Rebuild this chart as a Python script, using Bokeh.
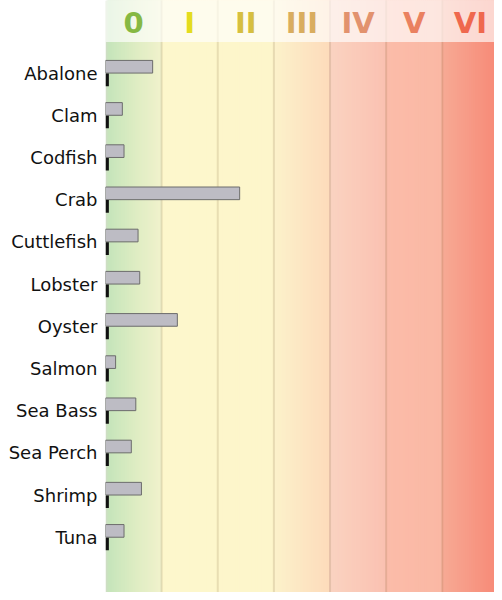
import numpy as np
from bokeh.plotting import figure
from bokeh.models import Range1d, FixedTicker, ColumnDataSource
from bokeh.transform import dodge
from bokeh.core.properties import value
from bokeh.embed import file_html
from bokeh.resources import INLINE

# ---- data ----
categories = ["Abalone", "Clam", "Codfish", "Crab", "Cuttlefish", "Lobster",
              "Oyster", "Salmon", "Sea Bass", "Sea Perch", "Shrimp", "Tuna"]
series_a = [0.84, 0.30, 0.33, 2.39, 0.58, 0.61, 1.28, 0.18, 0.54, 0.46, 0.64, 0.33]
series_b = [0.06, 0.06, 0.06, 0.06, 0.06, 0.06, 0.06, 0.06, 0.06, 0.06, 0.06, 0.06]
level_labels = ["0", "I", "II", "III", "IV", "V", "VI"]
level_colors = ["#86b843", "#e4dc1e", "#d6bf40", "#d9ad5f", "#e2926e", "#ea8160", "#ef684e"]

X_END = 6.93
Y_BOTTOM, Y_TOP = 12.31, -1.72
HEADER_EDGE = -0.735
HEADER_TEXT_Y = -1.19

p = figure(width=494, height=592, output_backend="svg", toolbar_location=None,
           x_range=Range1d(0, X_END), y_range=Range1d(Y_BOTTOM, Y_TOP),
           min_border_left=105, min_border_right=0, min_border_top=0, min_border_bottom=0)
p.outline_line_color = None
p.xaxis.visible = False
p.xgrid.visible = False
p.ygrid.visible = False
p.background_fill_color = "white"

# ---- background gradient (decoration) ----
stops = [
    (0.00, "#d0dbc6"), (0.06, "#c6e5bb"), (0.5, "#dcecc2"), (0.99, "#f1f2cc"),
    (1.00, "#fdf7cc"), (2.99, "#fdf6cb"),
    (3.00, "#fcf2cb"), (3.99, "#fddbbb"),
    (4.00, "#fad3c1"), (4.99, "#fac1b1"),
    (5.00, "#fbbca9"), (5.99, "#fab8a4"),
    (6.00, "#f7aa95"), (X_END, "#f78b78"),
]
def hex2rgb(h):
    h = h.lstrip("#")
    return np.array([int(h[i:i + 2], 16) for i in (0, 2, 4)], dtype=float)
sx = np.array([s[0] for s in stops])
sc = np.array([hex2rgb(s[1]) for s in stops])
n = 200
edges = np.linspace(0, X_END, n + 1)
step = edges[1] - edges[0]
mids = (edges[:-1] + edges[1:]) / 2
cols = []
for m in mids:
    rgb = [np.interp(m, sx, sc[:, k]) for k in range(3)]
    cols.append("#%02x%02x%02x" % tuple(int(round(v)) for v in rgb))
p.quad(left=edges[:-1], right=edges[1:] + step, bottom=Y_BOTTOM, top=Y_TOP,
       fill_color=cols, line_color=None)

# grid lines at the level boundaries
gx = list(range(1, len(level_labels)))
p.segment(x0=gx, x1=gx, y0=Y_BOTTOM, y1=Y_TOP, line_color="#7a6030",
          line_alpha=0.16, line_width=2)

# header overlay
p.quad(left=0, right=X_END, bottom=HEADER_EDGE, top=Y_TOP,
       fill_color="white", fill_alpha=0.65, line_color=None)

# header labels
p.text(x=[i + 0.5 for i in range(len(level_labels))], y=HEADER_TEXT_Y,
       text=level_labels, text_color=level_colors, text_align="center",
       text_baseline="middle", text_font=value("DejaVu Sans"),
       text_font_size="29px", text_font_style="bold")

# ---- bars ----
src = ColumnDataSource(dict(y=list(range(len(categories))), a=series_a, b=series_b))
p.hbar(y=dodge("y", -0.15), right="a", left=0, height=0.30, source=src,
       fill_color="#bdbcc4", line_color="#6c6c6c", line_width=1)
p.hbar(y=dodge("y", 0.16), right="b", left=0, height=0.30, source=src,
       fill_color="#111111", line_color=None)

# ---- y axis ----
ax = p.yaxis[0]
ax.ticker = FixedTicker(ticks=list(range(len(categories))))
ax.major_label_overrides = {i: c for i, c in enumerate(categories)}
ax.axis_line_color = None
ax.major_tick_line_color = None
ax.minor_tick_line_color = None
ax.major_tick_out = 0
ax.major_label_standoff = 8
ax.major_label_text_font = "DejaVu Sans"
ax.major_label_text_font_size = "18px"
ax.major_label_text_color = "#111111"

open("out.html", "w").write(file_html(p, INLINE))
